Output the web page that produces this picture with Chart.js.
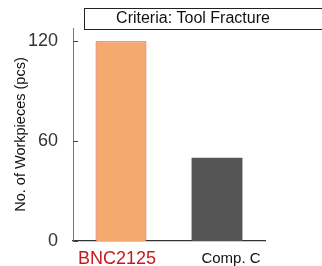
<!DOCTYPE html>
<html>
<head>
<meta charset="utf-8">
<script src="https://cdn.jsdelivr.net/npm/chart.js@4"></script>
<style>
  html, body { margin: 0; padding: 0; background: #fff; }
  #wrap { width: 322px; height: 266px; }
</style>
</head>
<body>
<div id="wrap"><canvas id="chart" width="322" height="266"></canvas></div>
<script>
const categories = ['BNC2125', 'Comp. C'];
const workpieces = [120, 50];
const yTicks = [0, 60, 120];
const yTitle = 'No. of Workpieces (pcs)';
const criteriaLabel = 'Criteria: Tool Fracture';

const font = '"Liberation Sans", Arial, sans-serif';

// inward ticks, category labels and criteria box
const extras = {
    id: 'extras',
    afterDraw(chart) {
        const ctx = chart.ctx;
        const area = chart.chartArea;
        const y = chart.scales.y;
        const x = chart.scales.x;
        ctx.save();

        // y ticks pointing into the plot
        ctx.strokeStyle = '#444';
        ctx.lineWidth = 1;
        yTicks.forEach(v => {
            const py = Math.round(y.getPixelForValue(v)) + 0.5;
            ctx.beginPath();
            ctx.moveTo(area.left, py);
            ctx.lineTo(area.left + 5, py);
            ctx.stroke();
        });

        // category labels
        ctx.textAlign = 'center';
        ctx.textBaseline = 'alphabetic';
        ctx.fillStyle = '#c8181c';
        ctx.font = '18px ' + font;
        ctx.fillText(categories[0], x.getPixelForValue(0) - 4, 264);
        ctx.fillStyle = '#111';
        ctx.font = '15px ' + font;
        ctx.fillText(categories[1], x.getPixelForValue(1) + 14, 263);

        // criteria box
        ctx.strokeStyle = '#222';
        ctx.strokeRect(84.5, 8.5, 260, 21);
        ctx.fillStyle = '#111';
        ctx.font = '16px ' + font;
        ctx.textBaseline = 'middle';
        ctx.fillText(criteriaLabel, 193, 19);
        ctx.restore();
    }
};

new Chart(document.getElementById('chart'), {
    type: 'bar',
    data: {
        labels: categories,
        datasets: [{
            data: workpieces,
            backgroundColor: ['#f5a96f', '#555555'],
            borderColor: ['#e04848', '#555555'],
            borderWidth: [1, 0],
            barPercentage: 0.53,
            categoryPercentage: 1
        }]
    },
    options: {
        responsive: false,
        animation: false,
        layout: { padding: { top: 28, right: 57, left: 0, bottom: 0 } },
        plugins: { legend: { display: false }, tooltip: { enabled: false } },
        scales: {
            x: {
                grid: { display: false },
                border: { display: true, color: '#333', width: 1.2 },
                ticks: { display: false },
                afterFit(scale) { scale.height = 25; }
            },
            y: {
                min: 0,
                max: 128,
                afterBuildTicks(scale) { scale.ticks = yTicks.map(v => ({ value: v })); },
                grid: { display: false },
                border: { display: true, color: '#777', width: 1 },
                ticks: {
                    color: '#333',
                    font: { family: font, size: 18 },
                    padding: 7
                },
                title: {
                    display: true,
                    text: yTitle,
                    color: '#111',
                    font: { family: font, size: 14.5 },
                    padding: { top: 12.5, bottom: 0 }
                },
                afterFit(scale) { scale.width = 73; }
            }
        }
    },
    plugins: [extras]
});
</script>
</body>
</html>
